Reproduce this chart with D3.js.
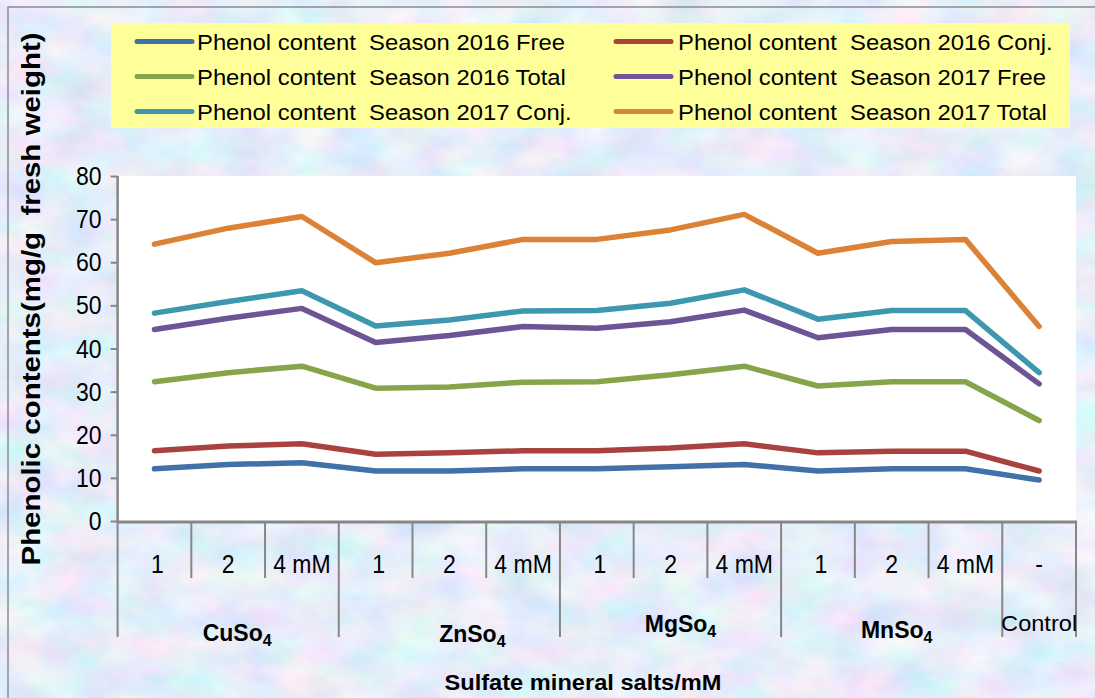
<!DOCTYPE html>
<html>
<head>
<meta charset="utf-8">
<script src="https://cdn.jsdelivr.net/npm/d3@7/dist/d3.min.js"></script>
<style>
  html, body { margin: 0; padding: 0; background: #c8d8f0; }
  svg { display: block; }
  text { font-family: "Liberation Sans", Arial, sans-serif; white-space: pre; }
</style>
</head>
<body>
<svg id="chart" width="1095" height="698"></svg>
<script>
// ---------------- data ----------------
const categories = ["1","2","4 mM","1","2","4 mM","1","2","4 mM","1","2","4 mM","-"];
const groupNames = ["CuSo", "ZnSo", "MgSo", "MnSo", "Control"];
const groupSubs  = ["4", "4", "4", "4", ""];
const groupSizes = [3, 3, 3, 3, 1];
const seriesNames = [
  "Phenol content  Season 2016 Free",
  "Phenol content  Season 2016 Conj.",
  "Phenol content  Season 2016 Total",
  "Phenol content  Season 2017 Free",
  "Phenol content  Season 2017 Conj.",
  "Phenol content  Season 2017 Total"
];
const free2016  = [12.1,13.1,13.5,11.6,11.6,12.1,12.1,12.6,13.1,11.6,12.1,12.1,9.5];
const conj2016  = [16.3,17.4,17.9,15.5,15.8,16.3,16.3,16.9,17.9,15.8,16.2,16.2,11.6];
const total2016 = [32.3,34.4,35.9,30.8,31.1,32.2,32.3,33.9,35.9,31.3,32.3,32.3,23.3];
const free2017  = [44.4,47.0,49.3,41.4,43.0,45.1,44.7,46.2,48.9,42.5,44.4,44.4,31.8];
const conj2017  = [48.2,50.9,53.4,45.2,46.6,48.7,48.8,50.5,53.6,46.8,48.8,48.8,34.4];
const total2017 = [64.2,67.9,70.6,59.9,62.1,65.3,65.3,67.5,71.1,62.1,64.8,65.3,45.1];
const yTicks = [0,10,20,30,40,50,60,70,80];
const yTitle = "Phenolic contents(mg/g  fresh weight)";
const xTitle = "Sulfate mineral salts/mM";

// ---------------- layout / style ----------------
const colors = ["#4270a8", "#a9423f", "#86a54a", "#6d5494", "#3d97af", "#db8237"];
const seriesValues = [free2016, conj2016, total2016, free2017, conj2017, total2017];
const plot = { left: 117.6, right: 1076, top: 176, bottom: 522 };
const groupLabelDx = [9, 23, 10, 5, 0];
const groupLabelY  = [641, 642, 632, 638, 631];

const svg = d3.select("#chart");

function condense(sel, k) {
  sel.each(function () {
    const w = this.getComputedTextLength();
    d3.select(this).attr("textLength", w * k).attr("lengthAdjust", "spacingAndGlyphs");
  });
}

// background texture
const defs = svg.append("defs");
const f = defs.append("filter").attr("id", "tex").attr("x", 0).attr("y", 0).attr("width", 1).attr("height", 1);
f.append("feTurbulence").attr("type", "fractalNoise").attr("baseFrequency", "0.018 0.03")
  .attr("numOctaves", 5).attr("seed", 7).attr("result", "n");
f.append("feColorMatrix").attr("in", "n").attr("type", "matrix")
  .attr("values", "0.55 0 0 0 0.52  0 0.32 0 0 0.69  0 0 0.18 0 0.86  0 0 0 0 1");
svg.append("rect").attr("width", 1095).attr("height", 698).attr("fill", "#c8d8f0").attr("filter", "url(#tex)");
svg.append("rect").attr("x", 8).attr("y", 7).attr("width", 1200).attr("height", 800)
  .attr("fill", "none").attr("stroke", "#8c8c8c").attr("stroke-width", 1.5);

// legend
svg.append("rect").attr("x", 111).attr("y", 23).attr("width", 959).attr("height", 105).attr("fill", "#ffff99");
const legColX = [137, 616];
const legTextX = [197, 678];
const legBase = [50, 85, 120];
const legG = svg.append("g");
let legFactor = null;
seriesNames.forEach((name, i) => {
  const c = i % 2, r = Math.floor(i / 2);
  legG.append("line").attr("x1", legColX[c]).attr("x2", legColX[c] + 55)
    .attr("y1", legBase[r] - 8.5).attr("y2", legBase[r] - 8.5)
    .attr("stroke", colors[i]).attr("stroke-width", 5).attr("stroke-linecap", "round");
  const t = legG.append("text").attr("x", legTextX[c]).attr("y", legBase[r])
    .attr("font-size", 22).attr("fill", "#000").text(name);
  const w = t.node().getComputedTextLength();
  if (legFactor === null) legFactor = 368 / w;
  t.attr("textLength", w * legFactor).attr("lengthAdjust", "spacingAndGlyphs");
});

// plot area
svg.append("rect").attr("x", plot.left).attr("y", plot.top)
  .attr("width", plot.right - plot.left).attr("height", plot.bottom - plot.top).attr("fill", "#ffffff");

const x = d3.scaleBand().domain(d3.range(categories.length)).range([plot.left, plot.right]).padding(0);
const y = d3.scaleLinear().domain([0, 80]).range([plot.bottom - 1, plot.top]);

// y axis
const yAxis = svg.append("g").attr("transform", `translate(${plot.left},0)`)
  .call(d3.axisLeft(y).tickValues(yTicks).tickSize(7).tickPadding(9));
yAxis.select(".domain").attr("stroke", "#868686").attr("stroke-width", 2.5)
  .attr("d", `M0,${plot.top}V${plot.bottom}`);
yAxis.selectAll(".tick line").attr("stroke", "#868686").attr("stroke-width", 2);
yAxis.selectAll(".tick text").attr("font-size", 25).attr("fill", "#000")
  .attr("font-family", "Liberation Sans, Arial, sans-serif").attr("dy", "0.34em");
condense(yAxis.selectAll(".tick text"), 0.92);

// x axis line
svg.append("line").attr("x1", plot.left - 1).attr("x2", plot.right + 1)
  .attr("y1", plot.bottom).attr("y2", plot.bottom).attr("stroke", "#868686").attr("stroke-width", 3);

// category boundaries
const groupStarts = [];
let acc = 0;
groupSizes.forEach(s => { groupStarts.push(acc); acc += s; });
const longIdx = new Set([...groupStarts, categories.length]);
d3.range(categories.length + 1).forEach(i => {
  const xp = i < categories.length ? x(i) : plot.right;
  svg.append("line").attr("x1", xp).attr("x2", xp)
    .attr("y1", plot.bottom).attr("y2", longIdx.has(i) ? 637 : 578)
    .attr("stroke", "#868686").attr("stroke-width", 2);
});

// category labels
const catLabels = svg.append("g").selectAll("text").data(categories).join("text")
  .attr("x", (d, i) => x(i) + x.bandwidth() / 2 + (d === "1" ? 3 : 0))
  .attr("y", 573).attr("text-anchor", "middle").attr("font-size", 25).attr("fill", "#000")
  .text(d => d);
condense(catLabels, 0.92);

// group labels
groupNames.forEach((g, gi) => {
  const cx = x(groupStarts[gi]) + x.bandwidth() * groupSizes[gi] / 2 + groupLabelDx[gi];
  const isCtrl = groupSubs[gi] === "";
  const t = svg.append("text").attr("x", cx).attr("y", groupLabelY[gi]).attr("text-anchor", "middle")
    .attr("font-size", isCtrl ? 22 : 23).attr("font-weight", isCtrl ? "normal" : "bold").attr("fill", "#000");
  t.append("tspan").text(g);
  if (!isCtrl) t.append("tspan").attr("font-size", 16).attr("dy", 5).text(groupSubs[gi]);
  if (isCtrl) t.attr("textLength", 76).attr("lengthAdjust", "spacingAndGlyphs");
});

// axis titles
const yt = svg.append("text").attr("transform", "translate(40,299) rotate(-90)")
  .attr("text-anchor", "middle").attr("font-size", 25).attr("font-weight", "bold").attr("fill", "#000")
  .text(yTitle);
yt.attr("textLength", 533).attr("lengthAdjust", "spacingAndGlyphs");
const xt = svg.append("text").attr("x", 583).attr("y", 690).attr("text-anchor", "middle")
  .attr("font-size", 22).attr("font-weight", "bold").attr("fill", "#000").text(xTitle);
xt.attr("textLength", 277).attr("lengthAdjust", "spacingAndGlyphs");

// series lines
const line = d3.line().x((d, i) => x(i) + x.bandwidth() / 2).y(d => y(d));
svg.append("g").selectAll("path").data(seriesValues).join("path")
  .attr("d", d => line(d)).attr("fill", "none")
  .attr("stroke", (d, i) => colors[i]).attr("stroke-width", 5.5)
  .attr("stroke-linecap", "round").attr("stroke-linejoin", "round");
</script>
</body>
</html>
